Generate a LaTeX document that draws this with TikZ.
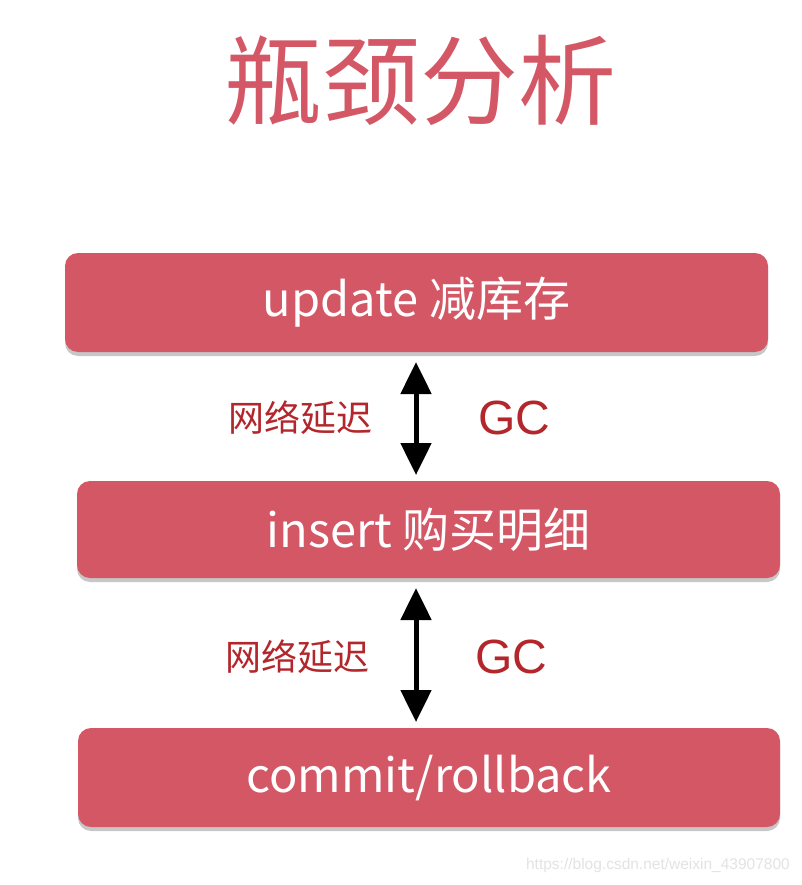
\documentclass[tikz,border=0pt]{standalone}
\usepackage{fontspec}
\setmainfont{Noto Sans CJK SC}
\newfontfamily\wmfont{Liberation Sans}
\usetikzlibrary{arrows.meta,shadows}
\definecolor{boxred}{HTML}{D45766}
\definecolor{labred}{HTML}{B3262B}
\definecolor{wmgray}{HTML}{E3E3E3}
\begin{document}
\begin{tikzpicture}[x=1pt,y=-1pt,
  stagebox/.style={fill=boxred, rounded corners=13pt, minimum width=703pt,
    text=white, font=\fontsize{47}{52}\selectfont, inner sep=0pt,
    drop shadow={shadow xshift=0pt, shadow yshift=-4pt, opacity=0.22, fill=black}},
  dblarrow/.style={line width=5pt, {Triangle[width=30pt,length=32pt]}-{Triangle[width=30pt,length=32pt]}},
  lab/.style={text=labred, font=\fontsize{36}{40}\selectfont, inner sep=0pt},
  gclab/.style={text=labred, font=\wmfont\fontsize{48}{52}\selectfont, inner sep=0pt}]
\useasboundingbox[fill=white] (0,0) rectangle (802,885);
\node[text=boxred, font=\fontsize{98}{106}\selectfont, inner sep=0pt] (title) at (420,80) {瓶颈分析};
\node[stagebox, minimum height=99pt] (b1) at (416.5,302.5) {update 减库存};
\node[stagebox, minimum height=97pt] (b2) at (428.5,529.5) {insert 购买明细};
\node[stagebox, minimum height=99pt, minimum width=702pt] (b3) at (429,777.5) {commit/rollback};
\coordinate (a1) at (416,352);
\coordinate (a2) at (416,481);
\coordinate (a3) at (416,578);
\coordinate (a4) at (416,728);
\draw[dblarrow, shorten <=10pt, shorten >=6pt] (a1) -- (a2);
\draw[dblarrow, shorten <=10pt, shorten >=6pt] (a3) -- (a4);
\node[lab] (l1) at (300,418) {网络延迟};
\node[gclab] (g1) at (514,418) {GC};
\node[lab] (l2) at (297,657) {网络延迟};
\node[gclab] (g2) at (511,657) {GC};
\node[text=wmgray, font=\wmfont\fontsize{15.5}{18}\selectfont, inner sep=0pt, anchor=east] (wm) at (790,865) {https://blog.csdn.net/weixin\_43907800};
\end{tikzpicture}
\end{document}
